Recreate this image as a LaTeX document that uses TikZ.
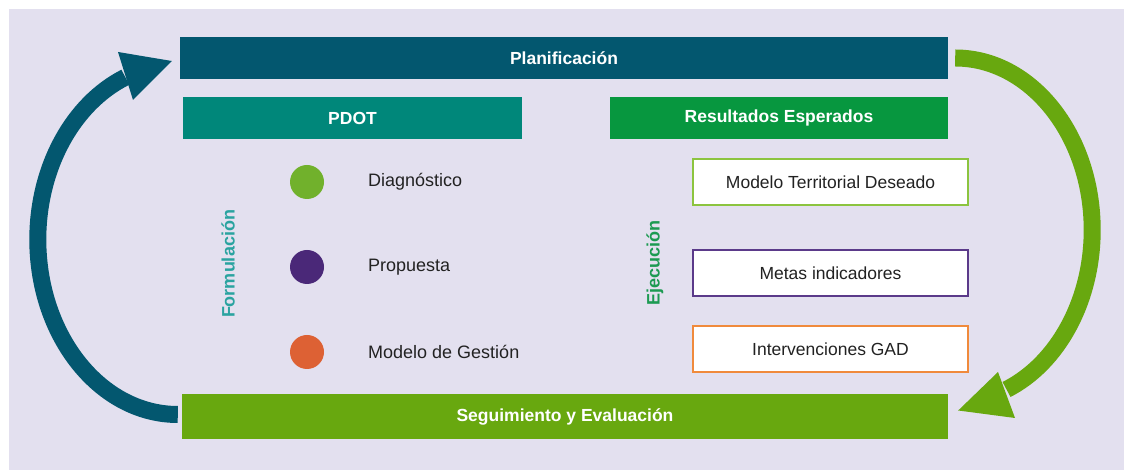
\documentclass[tikz,border=0pt]{standalone}
\usepackage{fontspec}
\setmainfont{Liberation Sans}
\usetikzlibrary{calc}
\definecolor{bgl}{HTML}{E3E0EF}
\definecolor{darkteal}{HTML}{03576F}
\definecolor{pdotteal}{HTML}{00877A}
\definecolor{resgreen}{HTML}{07973F}
\definecolor{seggreen}{HTML}{68A80F}
\definecolor{cgreen}{HTML}{71B12C}
\definecolor{cpurple}{HTML}{4A2878}
\definecolor{corange}{HTML}{DD6134}
\definecolor{bgreen}{HTML}{8CC43F}
\definecolor{bpurple}{HTML}{5B3A8A}
\definecolor{borange}{HTML}{F08A3C}
\definecolor{formcol}{HTML}{2AA3A0}
\definecolor{ejecol}{HTML}{1C9A52}
\definecolor{txt}{HTML}{222222}
\tikzset{
  bar/.style={inner sep=0pt, text=white, font=\fontsize{17.5}{19}\selectfont\bfseries},
  resbox/.style={draw, line width=2pt, fill=white, inner sep=0pt, minimum width=275pt, minimum height=46pt, text=txt, font=\fontsize{17.5}{19}\selectfont},
  dot/.style={circle, inner sep=0pt, minimum size=34pt},
  item/.style={anchor=west, inner sep=0pt, text=txt, font=\fontsize{18}{20}\selectfont},
  vlabel/.style={rotate=90, inner sep=0pt, font=\fontsize{18}{20}\selectfont\bfseries},
  shaft/.style={line width=17pt}
}
\begin{document}
\begin{tikzpicture}[x=1pt,y=1pt]
\useasboundingbox (0,0) rectangle (1124,470);
\fill[white] (0,0) rectangle (1124,470);
\fill[bgl] (9,0) rectangle (1124,461);

\node[bar, fill=darkteal, minimum width=768pt, minimum height=42pt] (plan) at (564,412) {Planificación};
\node[bar, fill=pdotteal, minimum width=339pt, minimum height=42pt] (pdot) at (352.5,352) {PDOT};
\node[bar, fill=resgreen, minimum width=338pt, minimum height=42pt] (res) at (779,352) {Resultados Esperados};
\node[bar, fill=seggreen, minimum width=766pt, minimum height=45pt] (seg) at (565,53.5) {Seguimiento y Evaluación};

\node[dot, fill=cgreen] (c1) at (307,288) {};
\node[dot, fill=cpurple] (c2) at (307,203) {};
\node[dot, fill=corange] (c3) at (307,118) {};
\node[item] (t1) at (368,288) {Diagnóstico};
\node[item] (t2) at (368,203) {Propuesta};
\node[item] (t3) at (368,118) {Modelo de Gestión};

\node[vlabel, text=formcol] (form) at (228,206) {Formulación};
\node[vlabel, text=ejecol] (eje) at (655,207) {Ejecución};

\node[resbox, draw=bgreen] (b1) at (830.5,288) {Modelo Territorial Deseado};
\node[resbox, draw=bpurple] (b2) at (830.5,197) {Metas indicadores};
\node[resbox, draw=borange] (b3) at (830.5,121) {Intervenciones GAD};

% left arrow: Seguimiento -> Planificacion
\draw[shaft, darkteal] ($(seg.west)+(-4,2)$) arc[start angle=270, end angle=112, x radius=140, y radius=175];
\coordinate (ltip) at ($(plan.west)+(-8,-3)$);
\fill[darkteal] (118,418) -- (ltip) -- (133,370) -- cycle;

% right arrow: Planificacion -> Seguimiento
\draw[shaft, seggreen] ($(plan.east)+(7,0)$) arc[start angle=90, end angle=-68, x radius=137, y radius=172];
\coordinate (rtip) at ($(seg.east)+(10,6)$);
\fill[seggreen] (998,98) -- (rtip) -- (1015,52) -- cycle;
\end{tikzpicture}
\end{document}
